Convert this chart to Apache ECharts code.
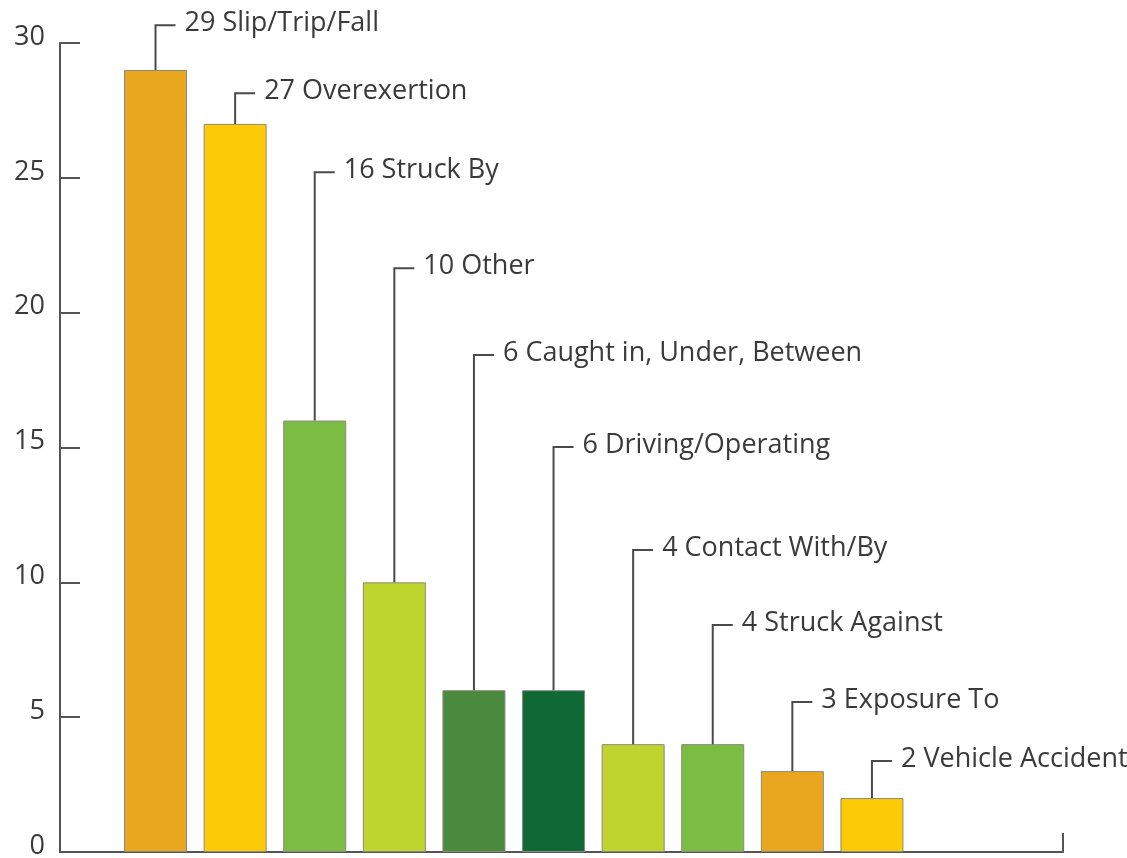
<!DOCTYPE html>
<html>
<head>
<meta charset="utf-8">
<script src="https://cdn.jsdelivr.net/npm/echarts@6/dist/echarts.min.js"></script>
<style>
  html, body { margin: 0; padding: 0; background: #fff; }
  #chart { width: 1127px; height: 858px; }
</style>
</head>
<body>
<div id="chart"></div>
<script>
// Incident causes and counts
const causes = ['Slip/Trip/Fall', 'Overexertion', 'Struck By', 'Other', 'Caught in, Under, Between',
  'Driving/Operating', 'Contact With/By', 'Struck Against', 'Exposure To', 'Vehicle Accident'];
const counts = [29, 27, 16, 10, 6, 6, 4, 4, 3, 2];
const yTicks = [0, 5, 10, 15, 20, 25, 30];

// Height (in axis units) where each callout's leader line turns toward its text
const calloutLevels = [30.66, 28.14, 25.21, 21.65, 18.43, 15.02, 11.2, 8.42, 5.56, 3.37];

const barColors = ['#E9A71F', '#FDCB06', '#7DBC42', '#BED52E', '#498A3E',
  '#0E6937', '#BFD42F', '#7DBC42', '#E9A71F', '#FDCB06'];

const FONT = '"Open Sans", "Noto Sans", sans-serif';
const FONT_SIZE = 27;
const INK = '#3a3a3a';
const LINE = '#4a4a4a';

const chart = echarts.init(document.getElementById('chart'), null, { renderer: 'canvas' });

chart.setOption({
  animation: false,
  backgroundColor: '#ffffff',
  grid: { left: 60, right: 64, top: 43, bottom: 6, containLabel: false, outerBoundsMode: 'none' },
  xAxis: {
    type: 'value',
    min: -1.2,
    max: 11.4,
    splitLine: { show: false },
    axisLabel: { show: false },
    axisLine: { show: true, onZero: false, lineStyle: { color: '#555', width: 2 } },
    axisTick: { show: true, inside: true, length: 19, customValues: [11.4],
      lineStyle: { color: '#555', width: 2 } }
  },
  yAxis: {
    type: 'value',
    min: yTicks[0],
    max: yTicks[yTicks.length - 1],
    interval: 5,
    splitLine: { show: false },
    axisLine: { show: true, onZero: false, lineStyle: { color: '#555', width: 2 } },
    axisTick: { show: true, inside: true, length: 20, lineStyle: { color: '#555', width: 2 } },
    axisLabel: {
      margin: 15,
      color: INK,
      fontFamily: FONT,
      fontSize: FONT_SIZE,
      verticalAlign: 'bottom',
      lineHeight: 12
    }
  },
  series: [
    {
      type: 'bar',
      barWidth: 63,
      data: counts.map((v, i) => ({
        value: [i, v],
        itemStyle: { color: barColors[i], borderColor: '#8c8a7c', borderWidth: 1 }
      })),
      z: 2
    },
    {
      type: 'custom',
      z: 3,
      data: counts.map((v, i) => [i, v, calloutLevels[i]]),
      renderItem: function (params, api) {
        const i = api.value(0);
        const base = api.coord([i, api.value(1)]);
        const turn = api.coord([i, api.value(2)]);
        return {
          type: 'group',
          children: [
            {
              type: 'polyline',
              shape: { points: [base, turn, [turn[0] + 20, turn[1]]] },
              style: { stroke: LINE, lineWidth: 2, fill: null }
            },
            {
              type: 'text',
              x: turn[0] + 29,
              y: turn[1] - 2,
              style: {
                text: counts[params.dataIndex] + ' ' + causes[params.dataIndex],
                fill: INK,
                font: FONT_SIZE + 'px ' + FONT,
                verticalAlign: 'middle',
                align: 'left'
              }
            }
          ]
        };
      }
    }
  ]
});
</script>
</body>
</html>
